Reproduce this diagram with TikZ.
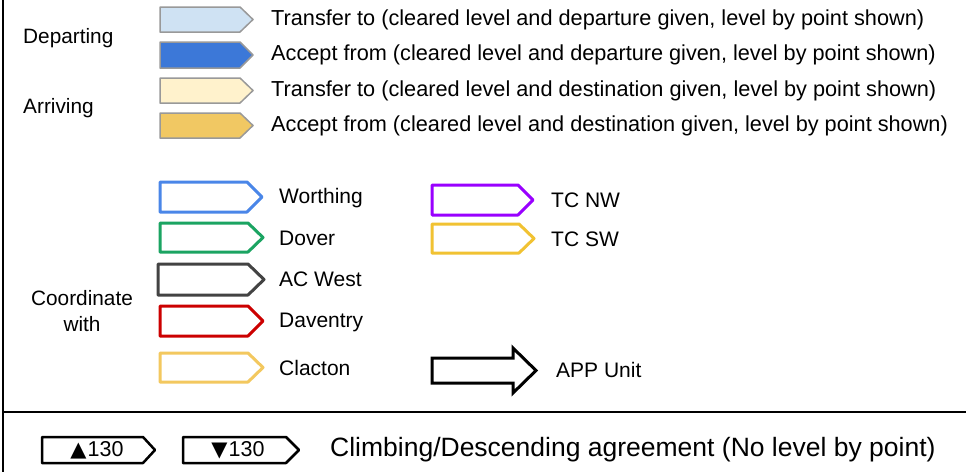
\documentclass[tikz,border=0pt]{standalone}
\usepackage{fontspec}
\setmainfont{Liberation Sans}
\newfontfamily\symfont{DejaVu Sans}
\newcommand\tagpath[6][]{%
  \draw[#1] (#2,#4) -- ({#3-#6},#4) -- (#3,{(#4+#5)/2}) -- ({#3-#6},#5) -- (#2,#5) -- cycle;}
\begin{document}
\begin{tikzpicture}[x=1pt,y=-1pt,
  lbl/.style={anchor=west,inner sep=0pt,font=\fontsize{21}{24}\selectfont},
  toplbl/.style={anchor=west,inner sep=0pt,font=\fontsize{21.7}{24}\selectfont},
  sect/.style={inner sep=0pt,font=\fontsize{20.8}{26}\selectfont,align=center},
  grey/.style={draw=black!40,line width=1.5pt,line join=round},
  coord/.style={line width=3pt,line join=round,fill=white},
  blk/.style={draw=black,line width=2.5pt,line join=round},
  lvl/.style={inner sep=0pt,font=\fontsize{21.5}{24}\selectfont}]
\useasboundingbox (0,0) rectangle (966,472);
\fill[white] (0,0) rectangle (966,472);
\definecolor{lblue}{HTML}{CFE2F3}
\definecolor{dblue}{HTML}{3C78D8}
\definecolor{lyel}{HTML}{FFF2CC}
\definecolor{gold}{HTML}{F1C863}
\definecolor{cblue}{HTML}{4A86E8}
\definecolor{cgreen}{HTML}{1BA462}
\definecolor{cgrey}{HTML}{434343}
\definecolor{cred}{HTML}{CC0000}
\definecolor{clight}{HTML}{F3C85F}
\definecolor{cpurple}{HTML}{9900FF}
\definecolor{csw}{HTML}{F1C232}
% frame
\draw[line width=2pt] (3,0) coordinate (ft) -- (3,472) coordinate (fb);
\draw[line width=2pt] (3,412) coordinate (hl) -- (966,412) coordinate (hr);
% section labels
\node[sect,anchor=west] (dep) at (23,38) {Departing};
\node[sect,anchor=west] (arr) at (23,108) {Arriving};
\node[sect] (cw) at (82,311) {Coordinate\\with};
% top legend
\tagpath[grey,fill=lblue]{160}{253}{7}{32}{13}
\tagpath[grey,fill=dblue]{160}{253}{42}{68}{13}
\tagpath[grey,fill=lyel]{160}{253}{78}{103}{13}
\tagpath[grey,fill=gold]{160}{253}{113}{138}{13}
\node[toplbl] (t1) at (271,20) {Transfer to (cleared level and departure given, level by point shown)};
\node[toplbl] (t2) at (271,55) {Accept from (cleared level and departure given, level by point shown)};
\node[toplbl] (t3) at (271,90.5) {Transfer to (cleared level and destination given, level by point shown)};
\node[toplbl] (t4) at (271,126) {Accept from (cleared level and destination given, level by point shown)};
% coordinate with
\tagpath[coord,draw=cblue]{160}{262}{182}{212}{15}
\tagpath[coord,draw=cgreen]{160}{263}{223}{252}{15}
\tagpath[coord,draw=cgrey]{158}{264}{264}{295}{16}
\tagpath[coord,draw=cred]{160}{263}{306}{336}{15}
\tagpath[coord,draw=clight]{160}{263}{353}{382}{15}
\node[lbl] (wor) at (279,198) {Worthing};
\node[lbl] (dov) at (279,238) {Dover};
\node[lbl] (acw) at (279,279) {AC West};
\node[lbl] (dav) at (279,322) {Daventry};
\node[lbl] (cla) at (279,368) {Clacton};
\tagpath[coord,draw=cpurple]{432}{533}{185}{215}{15}
\tagpath[coord,draw=csw]{432}{534}{224}{253}{15}
\node[lbl] (tcnw) at (551,200) {TC NW};
\node[lbl] (tcsw) at (551,239) {TC SW};
\draw[line width=3pt,line join=miter,fill=white] (432,358) -- (513,358) -- (513,348) -- (536,370.5) -- (513,393) -- (513,383) -- (432,383) -- cycle;
\node[lbl] (app) at (556,370) {APP Unit};
% bottom
\tagpath[blk]{42}{155}{437}{463}{12}
\tagpath[blk]{183}{299}{437}{463}{13}
\node[lvl] (up) at (97,450) {{\symfont\fontsize{21}{24}\selectfont ▲}\kern1pt 130};
\node[lvl] (dn) at (238,450) {{\symfont\fontsize{21}{24}\selectfont ▼}\kern1pt 130};
\node[anchor=west,inner sep=0pt,font=\fontsize{26.5}{30}\selectfont] (agr) at (330,450) {Climbing/Descending agreement (No level by point)};
\end{tikzpicture}
\end{document}
